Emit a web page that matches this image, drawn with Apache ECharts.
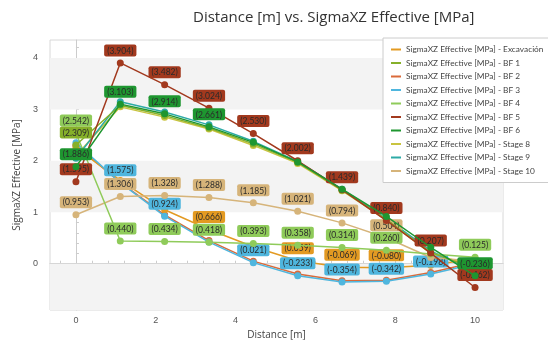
<!DOCTYPE html>
<html><head><meta charset="utf-8">
<script src="https://cdn.jsdelivr.net/npm/echarts@6/dist/echarts.min.js"></script>
<style>html,body{margin:0;padding:0;background:#fff}#c{width:548px;height:345px}</style>
</head><body><div id="c"></div>
<script>
const distances = [0, 1.111, 2.222, 3.333, 4.444, 5.556, 6.667, 7.778, 8.889, 10];
const seriesNames = ["SigmaXZ Effective [MPa] - Excavación","SigmaXZ Effective [MPa] - BF 1","SigmaXZ Effective [MPa] - BF 2","SigmaXZ Effective [MPa] - BF 3","SigmaXZ Effective [MPa] - BF 4","SigmaXZ Effective [MPa] - BF 5","SigmaXZ Effective [MPa] - BF 6","SigmaXZ Effective [MPa] - Stage 8","SigmaXZ Effective [MPa] - Stage 9","SigmaXZ Effective [MPa] - Stage 10"];
const excavacion = [2.25, 1.62, 1.05, 0.666, 0.33, 0.059, -0.069, -0.080, -0.03, 0.10];
const bf1 = [2.309, 3.08, 2.88, 2.64, 2.33, 1.97, 1.43, 0.86, 0.22, -0.10];
const bf2 = [2.30, 1.58, 0.95, 0.45, 0.05, -0.20, -0.33, -0.32, -0.17, 0.03];
const bf3 = [2.35, 1.575, 0.924, 0.42, 0.021, -0.233, -0.354, -0.342, -0.198, 0.00];
const bf4 = [2.542, 0.440, 0.434, 0.418, 0.393, 0.358, 0.314, 0.260, 0.19, 0.125];
const bf5 = [1.595, 3.904, 3.482, 3.024, 2.530, 2.002, 1.439, 0.840, 0.207, -0.462];
const bf6 = [1.886, 3.103, 2.914, 2.661, 2.36, 1.98, 1.45, 0.92, 0.32, -0.236];
const stage8 = [2.10, 3.05, 2.85, 2.62, 2.30, 1.95, 1.42, 0.85, 0.20, -0.05];
const stage9 = [2.05, 3.15, 2.95, 2.70, 2.38, 1.99, 1.45, 0.88, 0.25, -0.15];
const stage10 = [0.953, 1.306, 1.328, 1.288, 1.185, 1.021, 0.794, 0.504, 0.12, 0.05];
// indices of points whose value label is visible
const labelShown = [[3,5,6,7],[0],[],[1,2,4,5,6,7,8],[0,1,2,3,4,5,6,7,9],[0,1,2,3,4,5,6,7,8,9],[0,1,2,3,9],[],[],[0,1,2,3,4,5,6,7]];
const colors = ["#E39A22","#86B02A","#DA6A3A","#4FB6DE","#8FCB5A","#A2391E","#1E9630","#C9C440","#2DAAA6","#D6B47A"];
const drawOrder = [3,10,2,4,9,12,13,1,5,6];
const xTicks = [0,2,4,6,8,10];
const yTicks = [0,1,2,3,4];
const bands = [[3,4],[1,2],[-0.9,0]];
const allData = [excavacion,bf1,bf2,bf3,bf4,bf5,bf6,stage8,stage9,stage10];

const xMinor = []; for (let v=-0.4; v<=10.5; v+=0.4) xMinor.push(+v.toFixed(2));
const yMinor = []; for (let v=-0.8; v<=4.3; v+=0.2) yMinor.push(+v.toFixed(2));

const series = allData.map((arr,si)=>({
  name: seriesNames[si], type:'line', z: drawOrder[si],
  symbol:'circle', symbolSize:7,
  lineStyle:{width:1.5,color:colors[si]},
  itemStyle:{color:colors[si]},
  data: arr.map((v,i)=>({value:[distances[i],v], label:{show: labelShown[si].includes(i)}})),
  label:{position:'top',distance:3,fontSize:8.5,color:'#2a2a2a',backgroundColor:colors[si],
    padding:[2,3,1,3],borderRadius:2,fontFamily:'Lato',
    formatter:p=>'('+p.value[1].toFixed(3)+')'},
  markArea: si===0 ? {silent:true,itemStyle:{color:'#f3f3f3'},data:bands.map(b=>[{yAxis:b[0]},{yAxis:b[1]}])} : undefined
}));

const chart = echarts.init(document.getElementById('c'));
chart.setOption({
  animation:false,
  color: colors,
  title:{text:'Distance [m] vs. SigmaXZ Effective [MPa]',left:188,top:5,
    textStyle:{fontSize:15,fontWeight:'normal',color:'#333',fontFamily:'Open Sans'}},
  grid:{left:50,right:45,top:40,bottom:35,show:true,borderColor:'#d8d8d8',borderWidth:1,backgroundColor:'transparent'},
  legend:{orient:'vertical',left:383,top:38,padding:[6,6,6,8],itemGap:2.5,z:20,
    backgroundColor:'#fff',borderColor:'#ccc',borderWidth:1,
    icon:'rect',itemWidth:10,itemHeight:2,
    textStyle:{fontSize:8.3,color:'#444',lineHeight:11,fontFamily:'Lato'}},
  xAxis:{type:'value',min:-0.65,max:10.7,name:'Distance [m]',nameLocation:'middle',nameGap:19,
    nameTextStyle:{fontSize:10,color:'#444',fontFamily:'Open Sans'},
    axisLine:{show:true,lineStyle:{color:'#ccc'}},
    axisTick:{show:true,inside:true,length:3,customValues:xMinor,lineStyle:{color:'#ccc'}},
    axisLabel:{customValues:xTicks,fontSize:9,color:'#555',margin:6},
    splitLine:{show:false}},
  yAxis:{type:'value',min:-0.9,max:4.35,name:'SigmaXZ Effective [MPa]',nameLocation:'middle',nameGap:28,
    nameTextStyle:{fontSize:10,color:'#444',fontFamily:'Open Sans'},
    axisLine:{show:true,lineStyle:{color:'#ccc'}},
    axisTick:{show:true,inside:true,length:3,customValues:yMinor,lineStyle:{color:'#ccc'}},
    axisLabel:{customValues:yTicks,fontSize:9,color:'#555',margin:12},
    splitLine:{show:false}},
  series: series
});
</script></body></html>
